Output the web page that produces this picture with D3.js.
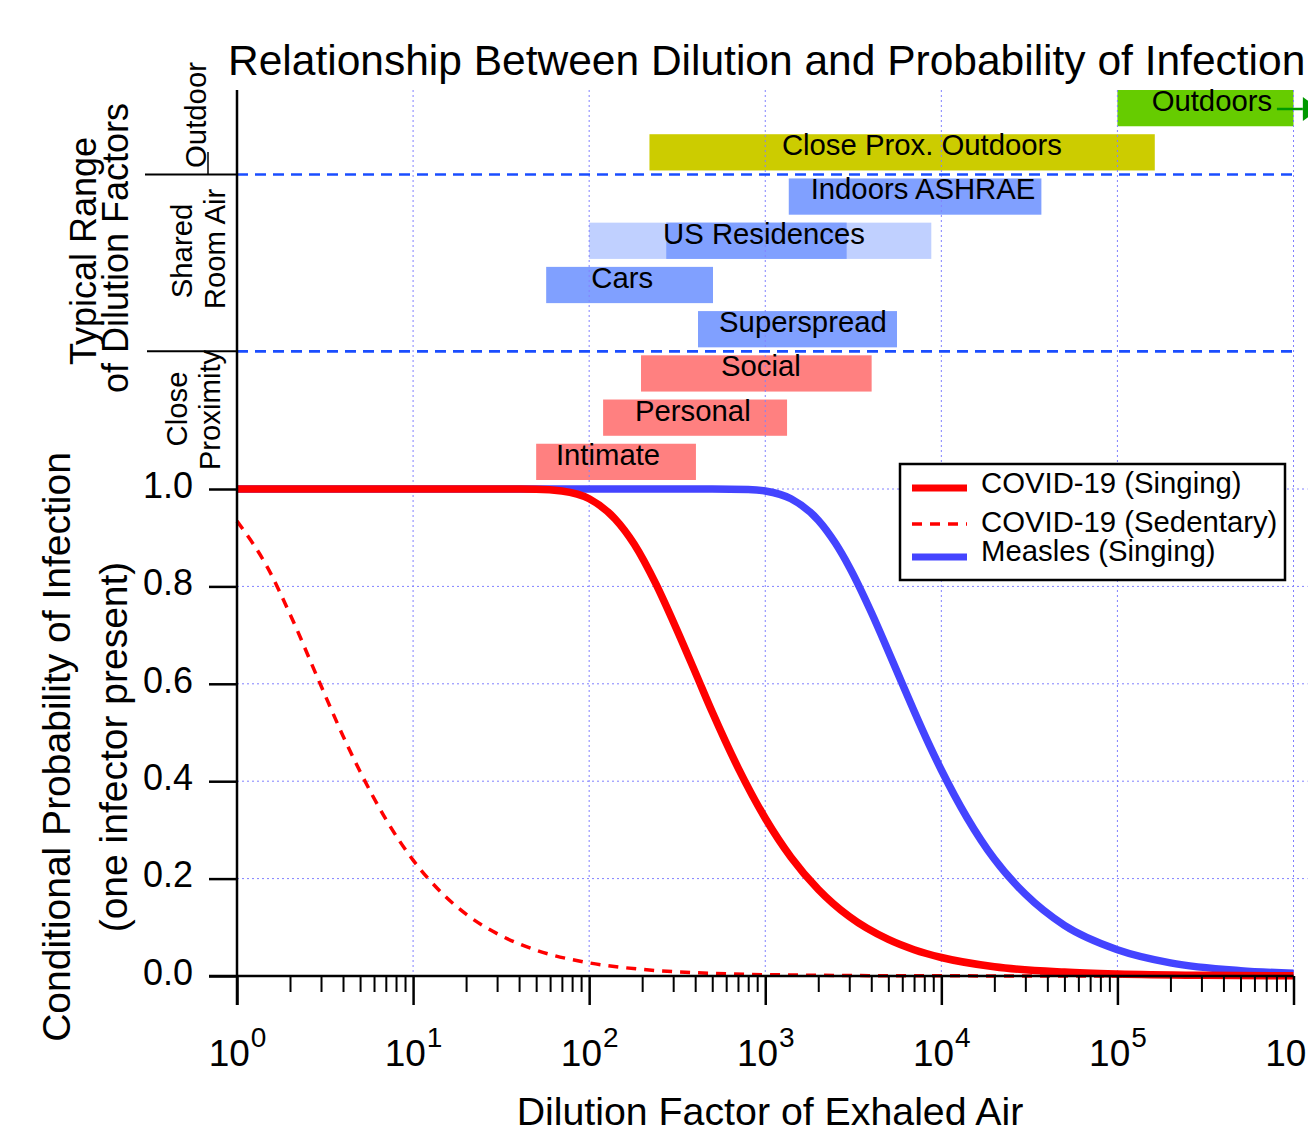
<!DOCTYPE html>
<html>
<head>
<meta charset="utf-8">
<script src="https://cdn.jsdelivr.net/npm/d3@7"></script>
<style>
  body { margin: 0; background: #fff; }
  svg { display: block; font-family: "Liberation Sans", Arial, sans-serif; }
</style>
</head>
<body>
<div id="chart"></div>
<script>
// ---- data ----
const rows = ["Outdoors", "Close Prox. Outdoors", "Indoors ASHRAE", "US Residences", "Cars",
              "Superspread", "Social", "Personal", "Intimate"];
const rangeLow  = [1e5, 220, 1360, 100, 57, 415, 197, 120, 50];
const rangeHigh = [1e6, 1.63e5, 3.7e4, 8770, 505, 5600, 4020, 1330, 404];
const labelAt   = [3.44e5, 7760, 7870, 984, 154, 1637, 945, 388, 128];
const usResCore = [274, 2900];
const outdoorArrow = [8.05e5, 1.13e6];

const groups = ["Outdoor", "Shared Room Air", "Close Proximity"];

const covidSinging = [[1,1],[10,1],[30,1],[50,0.9996],[70,0.996],[100,0.980],[140,0.939],[180,0.887],
  [240,0.804],[300,0.728],[400,0.624],[500,0.542],[700,0.428],[1000,0.324],[1400,0.244],[2000,0.178],
  [3000,0.122],[5000,0.075],[7000,0.054],[1e4,0.038],[2e4,0.019],[5e4,0.008],[1e5,0.004],[3e5,0.0013],[1e6,0.0004]];
const covidSedentary = [[1,0.934],[1.5,0.837],[2,0.743],[3,0.596],[4,0.493],[5,0.420],[7,0.322],[10,0.238],
  [15,0.166],[20,0.127],[30,0.087],[50,0.053],[100,0.027],[200,0.0135],[500,0.0054],[1000,0.0027],[1e4,0.0003],[1e6,0]];
const measlesSinging = [[1,1],[100,1],[500,1],[800,0.999],[1000,0.996],[1400,0.980],[2000,0.936],[2500,0.889],
  [3000,0.840],[4000,0.747],[5000,0.667],[6000,0.600],[7000,0.544],[8500,0.476],[1e4,0.423],[1.4e4,0.325],
  [2e4,0.240],[3e4,0.168],[5e4,0.104],[1e5,0.054],[2e5,0.027],[5e5,0.011],[1e6,0.0055]];

const seriesNames = ["COVID-19 (Singing)", "COVID-19 (Sedentary)", "Measles (Singing)"];
const xMajor = [1, 10, 100, 1e3, 1e4, 1e5, 1e6];
const yTicks = [0, 0.2, 0.4, 0.6, 0.8, 1.0];

// ---- styles ----
const barColor = {
  "Outdoors": "#66cc00", "Close Prox. Outdoors": "#cccc00", "Indoors ASHRAE": "#80a0ff",
  "US Residences": "#c0d0ff", "Cars": "#80a0ff", "Superspread": "#80a0ff",
  "Social": "#ff8080", "Personal": "#ff8080", "Intimate": "#ff8080"
};
const gridColor = "#8080ff";
const w = 1308, h = 1126;
const left = 237, right = 1293.5, yTop = 90, yZero = 976, yOne = 489;

const svg = d3.select("#chart").append("svg").attr("width", w).attr("height", h);
svg.append("rect").attr("width", w).attr("height", h).attr("fill", "#fff");

const xScale = d3.scaleLog().domain([1, 1e6]).range([left, right]);
const yScale = d3.scaleLinear().domain([0, 1]).range([yZero, yOne]);
const rowScale = d3.scaleBand().domain(rows).range([yTop, 480]).paddingInner(0.18);

// ---- bars of the upper panel ----
const bars = svg.append("g");
bars.selectAll("rect.range")
  .data(rows)
  .enter()
  .append("rect")
  .attr("class", "range")
  .attr("x", (d, i) => xScale(rangeLow[i]))
  .attr("width", (d, i) => xScale(rangeHigh[i]) - xScale(rangeLow[i]))
  .attr("y", d => rowScale(d))
  .attr("height", rowScale.bandwidth())
  .attr("fill", d => barColor[d]);

bars.append("rect")
  .attr("x", xScale(usResCore[0]))
  .attr("width", xScale(usResCore[1]) - xScale(usResCore[0]))
  .attr("y", rowScale("US Residences"))
  .attr("height", rowScale.bandwidth())
  .attr("fill", "#80a0ff");

// arrow on Outdoors
const ay = rowScale("Outdoors") + 19;
svg.append("line")
  .attr("x1", xScale(outdoorArrow[0])).attr("x2", xScale(outdoorArrow[1]))
  .attr("y1", ay).attr("y2", ay)
  .attr("stroke", "#009900").attr("stroke-width", 2.5);
svg.append("path")
  .attr("d", `M${xScale(outdoorArrow[1])},${ay - 12}L${xScale(outdoorArrow[1]) + 16},${ay}L${xScale(outdoorArrow[1])},${ay + 12}Z`)
  .attr("fill", "#009900");

// ---- grid ----
const grid = svg.append("g").attr("stroke", gridColor).attr("stroke-width", 1).attr("stroke-dasharray", "2,3");
grid.selectAll("line.v")
  .data(xMajor.slice(1))
  .enter().append("line")
  .attr("x1", d => xScale(d)).attr("x2", d => xScale(d))
  .attr("y1", yTop).attr("y2", yZero);
grid.selectAll("line.h")
  .data(yTicks.slice(1))
  .enter().append("line")
  .attr("x1", left).attr("x2", right + 14)
  .attr("y1", d => yScale(d)).attr("y2", d => yScale(d));

// bar labels
svg.append("g").selectAll("text")
  .data(rows)
  .enter().append("text")
  .attr("x", (d, i) => xScale(labelAt[i]))
  .attr("y", d => rowScale(d) + 21)
  .attr("text-anchor", "middle")
  .attr("font-size", 29.3)
  .text(d => d);

// group dividers (dashed blue)
const dividers = [
  (rowScale("Close Prox. Outdoors") + rowScale.bandwidth() + rowScale("Indoors ASHRAE")) / 2,
  (rowScale("Superspread") + rowScale.bandwidth() + rowScale("Social")) / 2
];
svg.append("g").selectAll("line")
  .data(dividers)
  .enter().append("line")
  .attr("x1", left).attr("x2", right + 4)
  .attr("y1", d => d).attr("y2", d => d)
  .attr("stroke", "#1a4dff").attr("stroke-width", 2.6).attr("stroke-dasharray", "11,7");
svg.append("g").selectAll("line")
  .data(dividers)
  .enter().append("line")
  .attr("x1", (d, i) => i ? 147 : 145).attr("x2", left)
  .attr("y1", d => d).attr("y2", d => d)
  .attr("stroke", "#000").attr("stroke-width", 2);
svg.append("line")
  .attr("x1", 208).attr("x2", 208).attr("y1", 152).attr("y2", dividers[0])
  .attr("stroke", "#000").attr("stroke-width", 1.5);

// ---- curves ----
const line = d3.line()
  .x(d => xScale(d[0]))
  .y(d => yScale(d[1]))
  .curve(d3.curveMonotoneX);

svg.append("path").datum(covidSedentary)
  .attr("d", line).attr("fill", "none")
  .attr("stroke", "#ff0000").attr("stroke-width", 3.5).attr("stroke-dasharray", "10,8");
svg.append("path").datum(measlesSinging)
  .attr("d", line).attr("fill", "none")
  .attr("stroke", "#4444ff").attr("stroke-width", 7.5);
svg.append("path").datum(covidSinging)
  .attr("d", line).attr("fill", "none")
  .attr("stroke", "#ff0000").attr("stroke-width", 7.5);

// ---- axes ----
const xAxis = d3.axisBottom(xScale).tickValues(xMajor).tickSize(29);
const xMinorVals = [];
xMajor.slice(0, -1).forEach(p => { for (let m = 2; m <= 9; m++) xMinorVals.push(p * m); });
const xMinor = d3.axisBottom(xScale).tickValues(xMinorVals).tickSize(16).tickFormat("");

svg.append("g")
  .attr("transform", `translate(0, ${yZero})`)
  .call(xMinor)
  .call(g => g.select(".domain").remove())
  .call(g => g.selectAll("line").attr("stroke", "#000").attr("stroke-width", 2));

svg.append("g")
  .attr("transform", `translate(0, ${yZero})`)
  .call(xAxis)
  .call(g => g.select(".domain").remove())
  .call(g => g.selectAll("line").attr("stroke", "#000").attr("stroke-width", 2.5))
  .call(g => g.selectAll(".tick text").each(function(d) {
    const t = d3.select(this);
    t.text(null).attr("y", 90).attr("dy", null)
      .attr("font-family", "Liberation Sans, Arial, sans-serif")
      .attr("font-size", 37).attr("fill", "#000");
    t.append("tspan").text("10");
    t.append("tspan").attr("dy", -19).attr("dx", 1).attr("font-size", 28).text(Math.round(Math.log10(d)));
  }));

const yAxis = d3.axisLeft(yScale).tickValues(yTicks).tickSize(28).tickPadding(16).tickFormat(d3.format(".1f"));
svg.append("g")
  .attr("transform", `translate(${left}, 0)`)
  .call(yAxis)
  .call(g => g.select(".domain").remove())
  .call(g => g.selectAll("line").attr("stroke", "#000").attr("stroke-width", 2.5))
  .call(g => g.selectAll("text")
    .attr("font-family", "Liberation Sans, Arial, sans-serif")
    .attr("font-size", 36).attr("fill", "#000").attr("dy", "0.23em"));

svg.append("line").attr("x1", left).attr("x2", left).attr("y1", yTop).attr("y2", yZero + 29)
  .attr("stroke", "#000").attr("stroke-width", 2.5);
svg.append("line").attr("x1", left - 28).attr("x2", right).attr("y1", yZero).attr("y2", yZero)
  .attr("stroke", "#000").attr("stroke-width", 2.5);

// ---- legend ----
const legend = svg.append("g").attr("id", "legend");
legend.append("rect")
  .attr("x", 900).attr("y", 464).attr("width", 385).attr("height", 116)
  .attr("fill", "#fff").attr("stroke", "#000").attr("stroke-width", 2.5);
const legY = [488, 524, 557];
const legBase = [493, 532, 561];
const legStroke = [["#ff0000", 7, null], ["#ff0000", 3.5, "10,8"], ["#4444ff", 7, null]];
seriesNames.forEach((name, i) => {
  legend.append("line")
    .attr("x1", 912).attr("x2", 967).attr("y1", legY[i]).attr("y2", legY[i])
    .attr("stroke", legStroke[i][0]).attr("stroke-width", legStroke[i][1])
    .attr("stroke-dasharray", legStroke[i][2]);
  legend.append("text")
    .attr("x", 981).attr("y", legBase[i])
    .attr("font-size", 29.3)
    .text(name);
});

// ---- titles ----
svg.append("text")
  .attr("x", 228).attr("y", 75)
  .attr("font-size", 42.5)
  .text("Relationship Between Dilution and Probability of Infection");

svg.append("text")
  .attr("x", 770).attr("y", 1125)
  .attr("text-anchor", "middle")
  .attr("font-size", 39.3)
  .text("Dilution Factor of Exhaled Air");

const vText = (x, y, size, str) => svg.append("text")
  .attr("transform", `translate(${x}, ${y}) rotate(-90)`)
  .attr("text-anchor", "middle")
  .attr("font-size", size)
  .text(str);

vText(70, 747, 39, "Conditional Probability of Infection");
vText(127, 747, 39, "(one infector present)");
vText(96, 251, 36, "Typical Range");
vText(128, 248, 36, "of Dilution Factors");
vText(206, 115, 29.3, groups[0]);
vText(192, 251, 29.3, "Shared");
vText(225, 249, 29.3, "Room Air");
vText(187, 409, 29.3, "Close");
vText(220, 410, 29.3, "Proximity");
</script>
</body>
</html>
